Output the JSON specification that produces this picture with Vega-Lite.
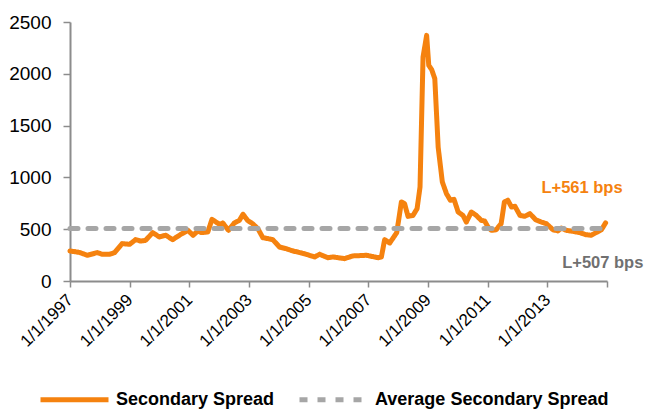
{
  "$schema": "https://vega.github.io/schema/vega-lite/v6.json",
  "width": 537,
  "height": 259,
  "autosize": {"type": "none"},
  "padding": {"left": 70, "top": 22, "right": 38, "bottom": 129},
  "background": "white",
  "config": {
    "view": {"stroke": null},
    "font": "Liberation Sans, Arial, sans-serif",
    "axis": {
      "domainColor": "#8c8c8c",
      "domainWidth": 2,
      "tickColor": "#8c8c8c",
      "tickWidth": 1.5,
      "grid": false,
      "labelColor": "#000000",
      "labelFont": "Liberation Sans, Arial, sans-serif"
    }
  },
  "datasets": {
    "spread": [
      {"date": "1997-01-01", "value": 290},
      {"date": "1997-05-01", "value": 275},
      {"date": "1997-08-01", "value": 248},
      {"date": "1997-12-01", "value": 274},
      {"date": "1998-02-01", "value": 258},
      {"date": "1998-05-01", "value": 258},
      {"date": "1998-07-01", "value": 274},
      {"date": "1998-10-01", "value": 361},
      {"date": "1999-01-01", "value": 354},
      {"date": "1999-03-15", "value": 399},
      {"date": "1999-05-15", "value": 386},
      {"date": "1999-07-15", "value": 392},
      {"date": "1999-10-10", "value": 467},
      {"date": "2000-01-01", "value": 425},
      {"date": "2000-03-20", "value": 441},
      {"date": "2000-06-10", "value": 399},
      {"date": "2000-09-20", "value": 451},
      {"date": "2000-12-15", "value": 489},
      {"date": "2001-02-15", "value": 441},
      {"date": "2001-04-15", "value": 483},
      {"date": "2001-05-25", "value": 467},
      {"date": "2001-08-15", "value": 473},
      {"date": "2001-10-05", "value": 595},
      {"date": "2002-01-05", "value": 547},
      {"date": "2002-02-15", "value": 560},
      {"date": "2002-04-25", "value": 489},
      {"date": "2002-07-05", "value": 560},
      {"date": "2002-09-05", "value": 585},
      {"date": "2002-10-20", "value": 644},
      {"date": "2002-12-15", "value": 585},
      {"date": "2003-02-15", "value": 553},
      {"date": "2003-04-20", "value": 505},
      {"date": "2003-06-20", "value": 418},
      {"date": "2003-08-20", "value": 409},
      {"date": "2003-10-20", "value": 399},
      {"date": "2004-01-10", "value": 328},
      {"date": "2004-04-01", "value": 312},
      {"date": "2004-06-25", "value": 289},
      {"date": "2004-09-15", "value": 274},
      {"date": "2004-12-01", "value": 258},
      {"date": "2005-03-15", "value": 232},
      {"date": "2005-05-15", "value": 258},
      {"date": "2005-08-25", "value": 225},
      {"date": "2005-10-25", "value": 232},
      {"date": "2006-03-15", "value": 216},
      {"date": "2006-06-25", "value": 242},
      {"date": "2006-12-10", "value": 248},
      {"date": "2007-05-01", "value": 225},
      {"date": "2007-06-10", "value": 232},
      {"date": "2007-07-20", "value": 399},
      {"date": "2007-09-20", "value": 367},
      {"date": "2007-12-15", "value": 467},
      {"date": "2008-02-10", "value": 763},
      {"date": "2008-03-20", "value": 746},
      {"date": "2008-05-01", "value": 624},
      {"date": "2008-07-01", "value": 633},
      {"date": "2008-08-20", "value": 698},
      {"date": "2008-09-25", "value": 907},
      {"date": "2008-11-01", "value": 2162},
      {"date": "2008-12-15", "value": 2371},
      {"date": "2009-01-10", "value": 2082},
      {"date": "2009-02-15", "value": 2040},
      {"date": "2009-03-25", "value": 1953},
      {"date": "2009-05-05", "value": 1293},
      {"date": "2009-06-25", "value": 956},
      {"date": "2009-08-15", "value": 843},
      {"date": "2009-10-01", "value": 779},
      {"date": "2009-11-15", "value": 788},
      {"date": "2010-01-05", "value": 666},
      {"date": "2010-03-05", "value": 633},
      {"date": "2010-04-15", "value": 569},
      {"date": "2010-06-15", "value": 666},
      {"date": "2010-08-15", "value": 633},
      {"date": "2010-10-15", "value": 585},
      {"date": "2010-11-25", "value": 579},
      {"date": "2011-01-05", "value": 521},
      {"date": "2011-02-15", "value": 489},
      {"date": "2011-04-15", "value": 495},
      {"date": "2011-06-15", "value": 553},
      {"date": "2011-07-25", "value": 763},
      {"date": "2011-09-05", "value": 779},
      {"date": "2011-10-20", "value": 714},
      {"date": "2011-12-01", "value": 721},
      {"date": "2012-02-01", "value": 633},
      {"date": "2012-03-30", "value": 624},
      {"date": "2012-06-01", "value": 650},
      {"date": "2012-08-10", "value": 592},
      {"date": "2012-10-20", "value": 569},
      {"date": "2012-12-20", "value": 553},
      {"date": "2013-03-10", "value": 495},
      {"date": "2013-05-10", "value": 483},
      {"date": "2013-06-20", "value": 511},
      {"date": "2013-08-20", "value": 489},
      {"date": "2013-11-10", "value": 479},
      {"date": "2014-02-01", "value": 467},
      {"date": "2014-04-20", "value": 447},
      {"date": "2014-06-20", "value": 441},
      {"date": "2014-08-20", "value": 467},
      {"date": "2014-10-25", "value": 495},
      {"date": "2014-12-15", "value": 561}
    ],
    "average": [
      {"date": "1997-01-01", "value": 507},
      {"date": "2014-12-31", "value": 507}
    ],
    "labels": [
      {"date": "2014-03-01", "value": 895, "label": "L+561 bps", "kind": "current"},
      {"date": "2014-11-10", "value": 171, "label": "L+507 bps", "kind": "average"}
    ]
  },
  "encoding": {
    "x": {
      "field": "date",
      "type": "temporal",
      "scale": {
        "type": "utc",
        "domain": [
          {"year": 1997, "month": 1, "date": 1, "utc": true},
          {"year": 2015, "month": 1, "date": 1, "utc": true}
        ]
      },
      "axis": {
        "title": null,
        "values": [
          {"year": 1997, "month": 1, "date": 1, "utc": true},
          {"year": 1999, "month": 1, "date": 1, "utc": true},
          {"year": 2001, "month": 1, "date": 1, "utc": true},
          {"year": 2003, "month": 1, "date": 1, "utc": true},
          {"year": 2005, "month": 1, "date": 1, "utc": true},
          {"year": 2007, "month": 1, "date": 1, "utc": true},
          {"year": 2009, "month": 1, "date": 1, "utc": true},
          {"year": 2011, "month": 1, "date": 1, "utc": true},
          {"year": 2013, "month": 1, "date": 1, "utc": true},
          {"year": 2015, "month": 1, "date": 1, "utc": true}
        ],
        "labelExpr": "utcFormat(datum.value, '%Y') == '2015' ? '' : utcFormat(datum.value, '%-m/%-d/%Y')",
        "labelAngle": -45,
        "labelAlign": "right",
        "labelBaseline": "middle",
        "labelFontSize": 17,
        "labelPadding": 10,
        "tickSize": 6,
        "labelFlush": false,
        "labelOverlap": false,
        "labelBound": false
      }
    },
    "y": {
      "field": "value",
      "type": "quantitative",
      "scale": {"domain": [0, 2500], "nice": false},
      "axis": {
        "title": null,
        "values": [0, 500, 1000, 1500, 2000, 2500],
        "labelFontSize": 19,
        "tickSize": 7,
        "labelPadding": 12,
        "format": "d"
      }
    }
  },
  "layer": [
    {
      "data": {"name": "spread"},
      "transform": [{"calculate": "'Secondary Spread'", "as": "series"}],
      "mark": {"type": "line", "strokeWidth": 5, "strokeJoin": "round", "strokeCap": "round"},
      "encoding": {
        "color": {
          "field": "series",
          "type": "nominal",
          "scale": {
            "domain": ["Secondary Spread", "Average Secondary Spread"],
            "range": ["#F5820F", "#A6A6A6"]
          },
          "legend": {
            "title": null,
            "orient": "none",
            "direction": "horizontal",
            "legendX": -32,
            "legendY": 341,
            "padding": 0,
            "symbolType": "stroke",
            "symbolSize": 4624,
            "symbolStrokeWidth": 5,
            "labelFontSize": 18,
            "labelFontWeight": "bold",
            "labelColor": "#000000",
            "labelFont": "Liberation Sans, Arial, sans-serif",
            "labelOffset": 5,
            "columnPadding": 14,
            "labelLimit": 400
          }
        },
        "strokeDash": {
          "field": "series",
          "type": "nominal",
          "scale": {
            "domain": ["Secondary Spread", "Average Secondary Spread"],
            "range": [[1, 0], [8, 10]]
          },
          "legend": null
        }
      }
    },
    {
      "data": {"name": "average"},
      "transform": [{"calculate": "'Average Secondary Spread'", "as": "series"}],
      "mark": {"type": "line", "strokeWidth": 5, "strokeCap": "round"},
      "encoding": {
        "color": {"field": "series", "type": "nominal"},
        "strokeDash": {"field": "series", "type": "nominal"}
      }
    },
    {
      "data": {"name": "labels"},
      "transform": [{"filter": "datum.kind == 'current'"}],
      "mark": {"type": "text", "align": "center", "baseline": "middle", "fontSize": 16.5, "fontWeight": "bold", "color": "#F5820F", "font": "Liberation Sans, Arial, sans-serif"},
      "encoding": {"text": {"field": "label"}}
    },
    {
      "data": {"name": "labels"},
      "transform": [{"filter": "datum.kind == 'average'"}],
      "mark": {"type": "text", "align": "center", "baseline": "middle", "fontSize": 16.5, "fontWeight": "bold", "color": "#707070", "font": "Liberation Sans, Arial, sans-serif"},
      "encoding": {"text": {"field": "label"}}
    }
  ]
}
